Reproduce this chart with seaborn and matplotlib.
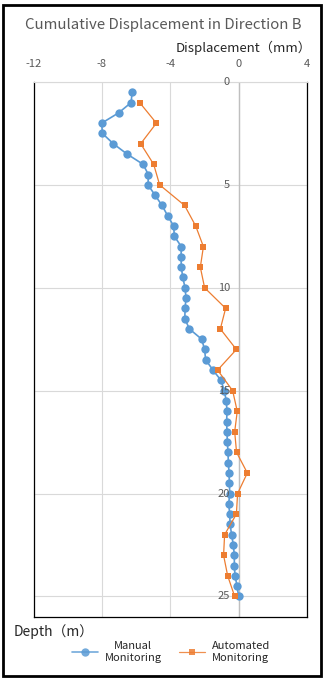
import matplotlib
matplotlib.use("Agg")
import matplotlib.pyplot as plt
import seaborn as sns
import pandas as pd
from matplotlib.patches import Rectangle

# ---------------- data ----------------
manual_depth = [0.5, 1.0, 1.5, 2.0, 2.5, 3.0, 3.5, 4.0, 4.5, 5.0,
                5.5, 6.0, 6.5, 7.0, 7.5, 8.0, 8.5, 9.0, 9.5, 10.0,
                10.5, 11.0, 11.5, 12.0, 12.5, 13.0, 13.5, 14.0, 14.5, 15.0,
                15.5, 16.0, 16.5, 17.0, 17.5, 18.0, 18.5, 19.0, 19.5, 20.0,
                20.5, 21.0, 21.5, 22.0, 22.5, 23.0, 23.5, 24.0, 24.5, 25.0]
manual_disp = [-6.23, -6.29, -7.02, -8.01, -7.97, -7.33, -6.53, -5.59, -5.28, -5.30,
               -4.89, -4.48, -4.15, -3.80, -3.76, -3.35, -3.37, -3.35, -3.27, -3.13,
               -3.08, -3.13, -3.15, -2.88, -2.16, -1.99, -1.93, -1.50, -1.03, -0.84,
               -0.72, -0.68, -0.70, -0.68, -0.66, -0.62, -0.60, -0.56, -0.54, -0.52,
               -0.58, -0.52, -0.50, -0.41, -0.31, -0.25, -0.25, -0.21, -0.09, 0.00]

auto_depth = [1, 2, 3, 4, 5, 6, 7, 8, 9, 10, 11, 12, 13,
              14, 15, 16, 17, 18, 19, 20, 21, 22, 23, 24, 25]
auto_disp = [-5.79, -4.81, -5.73, -4.97, -4.62, -3.16, -2.51, -2.06, -2.24, -1.99,
             -0.76, -1.07, -0.13, -1.23, -0.35, -0.08, -0.23, -0.12, 0.51, -0.06,
             -0.13, -0.82, -0.88, -0.64, -0.23]

x_ticks = [-12, -8, -4, 0, 4]
depth_ticks = [0, 5, 10, 15, 20, 25]

series_names = ["Manual\nMonitoring", "Automated\nMonitoring"]
title = "Cumulative Displacement in Direction B"
x_label = "Displacement（mm）"
y_label = "Depth（m）"

# ---------------- style ----------------
sns.set_theme(style="white")
plt.rcParams["font.family"] = ["Noto Sans CJK SC", "DejaVu Sans"]

fig = plt.figure(figsize=(3.24, 6.81), dpi=100)
ax = fig.add_axes([0.1034, 0.094, 0.8441, 0.7856])

manual_df = pd.DataFrame({"depth": manual_depth, "disp": manual_disp})
auto_df = pd.DataFrame({"depth": auto_depth, "disp": auto_disp})

ax.grid(True, color="#d9d9d9", lw=0.8, zorder=0)
ax.axvline(0, color="#bfbfbf", lw=1.0, zorder=1)

sns.lineplot(data=manual_df, x="disp", y="depth", sort=False, estimator=None,
             marker="o", markersize=6.0, markeredgewidth=0, color="#5B9BD5",
             linewidth=1.2, ax=ax, label=series_names[0], zorder=3)
sns.lineplot(data=auto_df, x="disp", y="depth", sort=False, estimator=None,
             marker="s", markersize=4.0, markeredgewidth=0, color="#ED7D31",
             linewidth=0.9, ax=ax, label=series_names[1], zorder=4)

ax.set_xlim(-12, 4)
ax.set_ylim(26, 0)
ax.set_xticks(x_ticks)
ax.set_xticklabels([str(t) for t in x_ticks])
ax.xaxis.tick_top()
ax.tick_params(axis="x", length=0, pad=9, labelsize=8, colors="#595959")
ax.set_yticks(depth_ticks)
ax.set_yticklabels([])
ax.tick_params(axis="y", length=0)
ax.set_xlabel("")
ax.set_ylabel("")

for d in depth_ticks:
    ax.text(-0.5, d, str(d), ha="right", va="center", fontsize=8,
            color="#595959", zorder=5)

for s in ["left", "right", "bottom"]:
    ax.spines[s].set_color("black")
    ax.spines[s].set_linewidth(0.9)
ax.spines["top"].set_color("#d9d9d9")
ax.spines["top"].set_linewidth(0.8)

leg = ax.legend(loc="center", bbox_to_anchor=(0.528, 0.0426),
                bbox_transform=fig.transFigure, ncol=2, frameon=False,
                fontsize=8, handlelength=2.3, handletextpad=0.6,
                columnspacing=1.6)
for t in leg.get_texts():
    t.set_multialignment("center")
    t.set_color("#262626")
for h in leg.get_lines():
    h.set_alpha(0.85)

fig.text(0.503, 1 - 25 / 681, title, ha="center", va="center",
         fontsize=10.8, color="#595959")
fig.text(176 / 324, 1 - 48 / 681, x_label, ha="left", va="center",
         fontsize=9.5, color="#262626")
fig.text(14 / 324, 1 - 632 / 681, y_label, ha="left", va="center",
         fontsize=10, color="#262626")

fig.add_artist(Rectangle((3 / 324, 5 / 681), 318 / 324, 671.5 / 681,
                         transform=fig.transFigure, fill=False, lw=2.0,
                         ec="black"))

fig.savefig("out.png", dpi=100)
